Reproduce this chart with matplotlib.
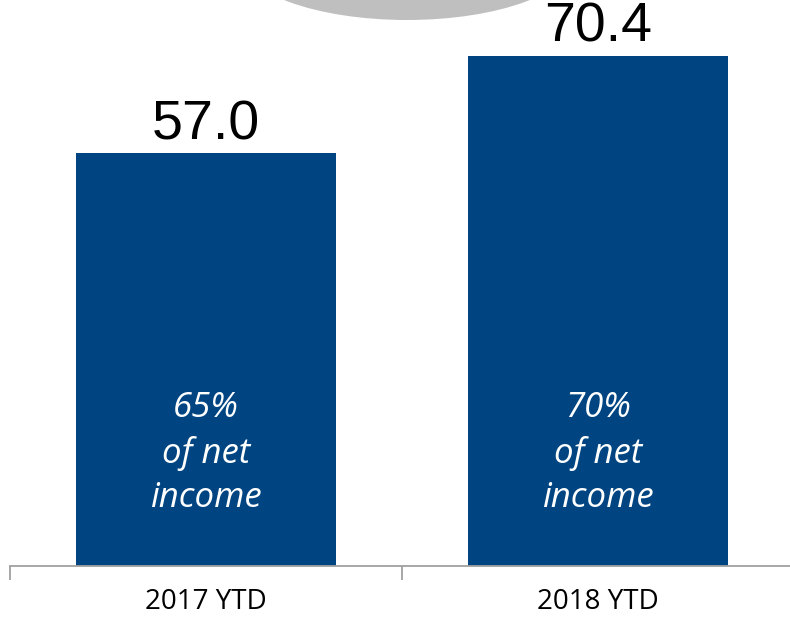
import matplotlib
matplotlib.use("Agg")
import matplotlib.pyplot as plt
from matplotlib.patches import Ellipse

categories = ["2017 YTD", "2018 YTD"]
values = [57.0, 70.4]
value_labels = ["57.0", "70.4"]
inner_labels = ["65%\nof net\nincome", "70%\nof net\nincome"]

W, H = 790, 620
fig = plt.figure(figsize=(W / 100, H / 100), dpi=100)
ax = fig.add_axes([10 / W, 54 / H, 784 / W, 566 / H])
x = list(range(len(categories)))
ax.bar(x, values, width=0.663, color="#004581", zorder=2)
ax.set_xlim(-0.5, 1.5)
ax.set_ylim(0, 566 / 7.245)

for xi, v, lab, inner in zip(x, values, value_labels, inner_labels):
    ax.annotate(lab, (xi, v), xytext=(0, 14), textcoords="offset pixels",
                ha="center", va="baseline", fontsize=40, family="Liberation Sans",
                color="black")
    ax.text(xi, 15.6, inner, ha="center", va="center", fontsize=25,
            style="italic", family="Open Sans", color="white",
            linespacing=1.4, zorder=3)

for s in ["top", "left", "right"]:
    ax.spines[s].set_visible(False)
ax.spines["bottom"].set_color("#A0A0A0")
ax.spines["bottom"].set_linewidth(1.3)
ax.set_yticks([])
ax.set_xticks([-0.5, 0.5, 1.5])
ax.set_xticklabels([])
ax.set_xticks(x, minor=True)
ax.set_xticklabels(categories, minor=True, fontsize=20, family="Open Sans")
ax.tick_params(axis="x", which="major", length=10, width=1.3, color="#A0A0A0")
ax.tick_params(axis="x", which="minor", length=0, pad=16)

# grey callout ellipse partially visible at top
ell = Ellipse((407 / W, 1 + 42 / H), 334 / W, 124 / H, transform=fig.transFigure,
              facecolor="#BFBFBF", edgecolor="none", zorder=5)
fig.patches.append(ell)

fig.savefig("out.png", dpi=100)
